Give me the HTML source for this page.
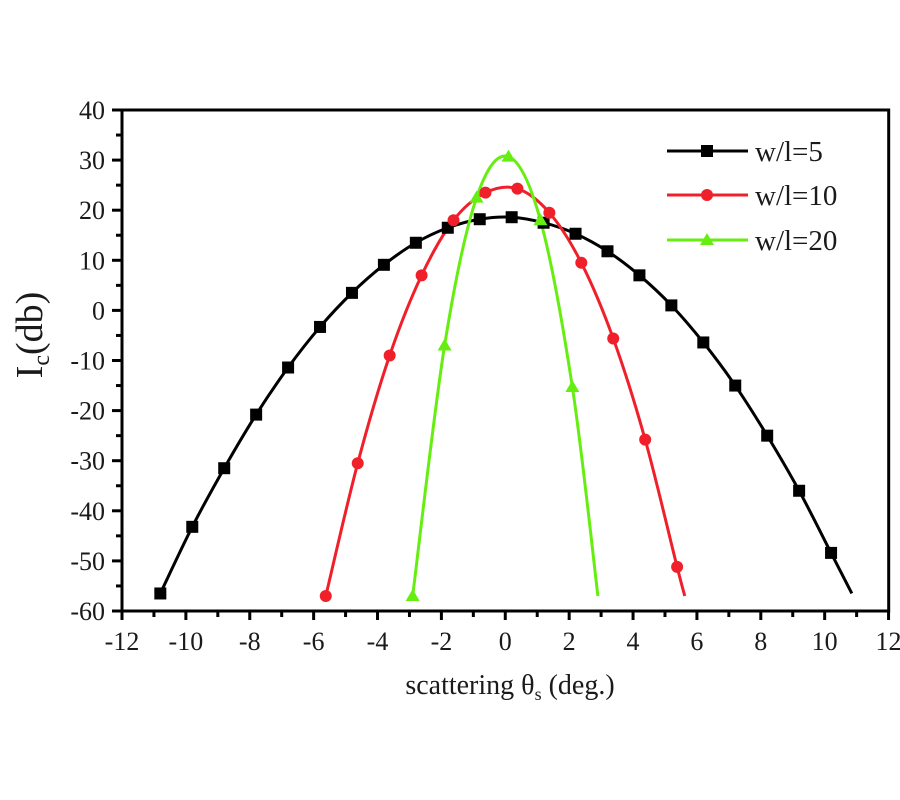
<!DOCTYPE html>
<html><head><meta charset="utf-8"><style>
body{margin:0;background:#fff;}
svg{display:block;}
text{font-family:"Liberation Serif",serif;fill:#1a1a1a;}
</style></head><body>
<svg id="s" width="900" height="800" viewBox="0 0 900 800" xmlns="http://www.w3.org/2000/svg">
<rect width="900" height="800" fill="#fff"/>
<g id="ax" stroke="#000" stroke-width="3" fill="none"></g>
<g id="lab" font-size="26"></g>
<g id="series"></g>
<g font-size="29">
<line x1="667" y1="151" x2="748" y2="151" stroke="#000" stroke-width="3"/><rect x="701" y="145" width="12" height="12" fill="#000"/>
<text x="755" y="161">w/l=5</text>
<line x1="667" y1="195" x2="748" y2="195" stroke="#f0202a" stroke-width="3"/><circle cx="707" cy="195" r="6" fill="#f0202a"/>
<text x="755" y="205">w/l=10</text>
<line x1="667" y1="240" x2="748" y2="240" stroke="#66ee11" stroke-width="3"/><polygon points="707,233 714,245 700,245" fill="#66ee11"/>
<text x="755" y="250">w/l=20</text>
</g>
<text x="510" y="694" font-size="28" text-anchor="middle">scattering θ<tspan font-size="18" dy="6">s</tspan><tspan dy="-6"> (deg.)</tspan></text>
<text transform="translate(42,335) rotate(-90)" font-size="38" text-anchor="middle">I<tspan font-size="24" dy="7">c</tspan><tspan dy="-7">(db)</tspan></text>
</svg>
<script>
const X=v=>122+(v+12)*31.94, Y=v=>110+(40-v)*5.01;
const ns="http://www.w3.org/2000/svg";
function el(p,t,a){const e=document.createElementNS(ns,t);for(const k in a)e.setAttribute(k,a[k]);p.appendChild(e);return e;}
const ax=document.getElementById('ax'),lab=document.getElementById('lab');
el(ax,'rect',{x:122,y:110,width:766.7,height:501});
for(let v=-12;v<=12;v++){const x=X(v);const big=v%2==0;el(ax,'line',{x1:x,y1:611,x2:x,y2:big?620:617});
 if(big){const t=el(lab,'text',{x:x,y:650,'text-anchor':'middle'});t.textContent=v;}}
for(let v=-60;v<=40;v+=5){const y=Y(v);const big=v%10==0;el(ax,'line',{x1:122,y1:y,x2:big?112:116,y2:y});
 if(big){const t=el(lab,'text',{x:105,y:y+9,'text-anchor':'end'});t.textContent=v;}}
function path(pts){let d=`M${X(pts[0][0])},${Y(pts[0][1])}`;const P=pts.map(p=>[X(p[0]),Y(p[1])]);
 for(let i=0;i<P.length-1;i++){const p0=P[i-1]||P[i],p1=P[i],p2=P[i+1],p3=P[i+2]||P[i+1];
 d+=` C${p1[0]+(p2[0]-p0[0])/6},${p1[1]+(p2[1]-p0[1])/6} ${p2[0]-(p3[0]-p1[0])/6},${p2[1]-(p3[1]-p1[1])/6} ${p2[0]},${p2[1]}`;}return d;}
const S=document.getElementById('series');
const blk=[[-10.8,-56.5],[-9.8,-43.2],[-8.8,-31.5],[-7.8,-20.8],[-6.8,-11.4],[-5.8,-3.3],[-4.8,3.5],[-3.8,9.1],[-2.8,13.5],[-1.8,16.5],[-0.8,18.2],[0.2,18.6],[1.2,17.5],[2.2,15.3],[3.2,11.8],[4.2,7],[5.2,1],[6.2,-6.4],[7.2,-15],[8.2,-25],[9.2,-36],[10.2,-48.4]];
const red=[[-5.62,-57],[-4.62,-30.5],[-3.62,-9],[-2.62,7],[-1.62,18],[-0.62,23.5],[0.38,24.3],[1.38,19.5],[2.38,9.5],[3.38,-5.6],[4.38,-25.8],[5.38,-51.2]];
const grn=[[-2.9,-57],[-1.9,-7],[-0.9,22.5],[0.1,30.7],[1.1,18],[2.1,-15.3]];
el(S,'path',{d:path(blk.concat([[10.85,-56.5]])),stroke:'#000','stroke-width':3,fill:'none'});
el(S,'path',{d:path(red.concat([[5.62,-57]])),stroke:'#f0202a','stroke-width':3,fill:'none'});
el(S,'path',{d:path(grn.concat([[2.9,-57]])),stroke:'#66ee11','stroke-width':3,fill:'none'});
blk.forEach(p=>el(S,'rect',{x:X(p[0])-6,y:Y(p[1])-6,width:12,height:12,fill:'#000'}));
red.forEach(p=>el(S,'circle',{cx:X(p[0]),cy:Y(p[1]),r:6,fill:'#f0202a'}));
grn.forEach(p=>{const x=X(p[0]),y=Y(p[1]);el(S,'polygon',{points:`${x},${y-7} ${x+7},${y+5} ${x-7},${y+5}`,fill:'#66ee11'});});
</script>
</body></html>
